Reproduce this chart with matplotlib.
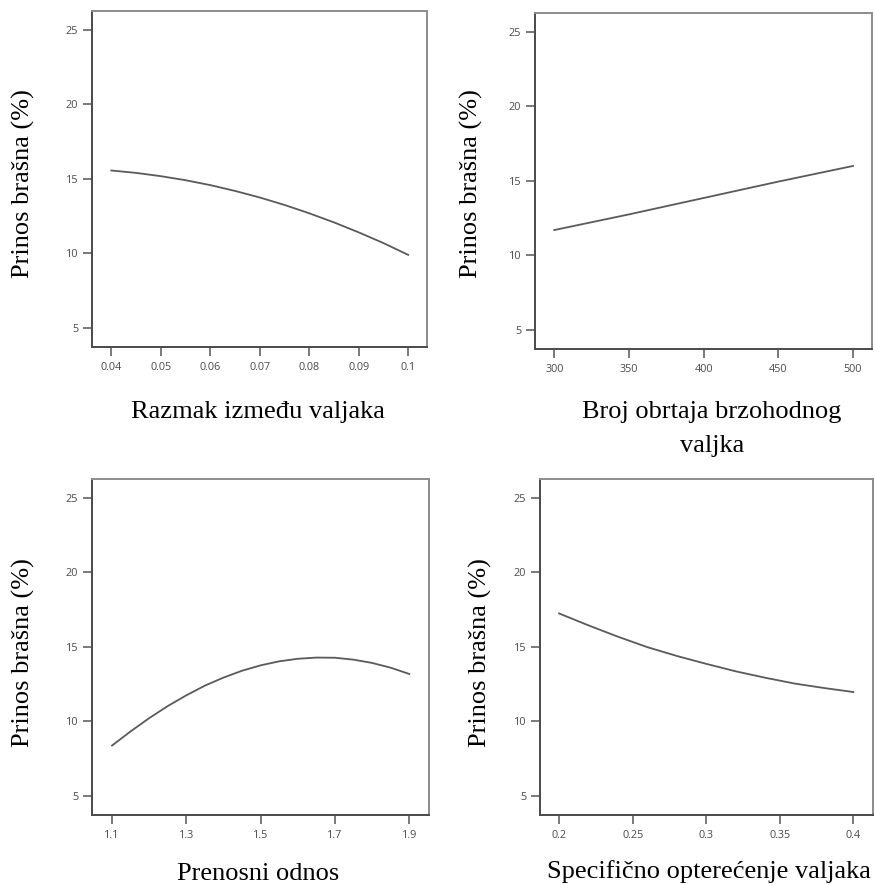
import matplotlib
matplotlib.use("Agg")
import matplotlib.pyplot as plt

# Prinos brašna (%) u zavisnosti od pojedinih parametara mlevenja
razmak_x = [0.04, 0.045, 0.05, 0.055, 0.06, 0.065, 0.07, 0.075, 0.08, 0.085, 0.09, 0.095, 0.1]
razmak_y = [15.56, 15.40, 15.18, 14.91, 14.58, 14.19, 13.75, 13.25, 12.69, 12.08, 11.41, 10.69, 9.9]

obrtaji_x = [300, 350, 400, 450, 500]
obrtaji_y = [11.7, 12.75, 13.85, 14.95, 16.0]

prenosni_x = [1.1, 1.15, 1.2, 1.25, 1.3, 1.35, 1.4, 1.45, 1.5,
              1.55, 1.6, 1.65, 1.7, 1.75, 1.8, 1.85, 1.9]
prenosni_y = [8.38, 9.33, 10.22, 11.03, 11.75, 12.40, 12.94, 13.40, 13.76,
              14.03, 14.20, 14.28, 14.27, 14.14, 13.92, 13.60, 13.18]

opterecenje_x = [0.2, 0.22, 0.24, 0.26, 0.28, 0.3, 0.32, 0.34, 0.36, 0.38, 0.4]
opterecenje_y = [17.24, 16.44, 15.68, 14.98, 14.39, 13.86, 13.36, 12.93, 12.54, 12.24, 11.97]

y_ticks = [5, 10, 15, 20, 25]
razmak_ticks = [0.04, 0.05, 0.06, 0.07, 0.08, 0.09, 0.1]
razmak_labels = ["0.04", "0.05", "0.06", "0.07", "0.08", "0.09", "0.1"]
obrtaji_ticks = [300, 350, 400, 450, 500]
prenosni_ticks = [1.1, 1.3, 1.5, 1.7, 1.9]
opterecenje_ticks = [0.2, 0.25, 0.3, 0.35, 0.4]
opterecenje_labels = ["0.2", "0.25", "0.3", "0.35", "0.4"]

W, H = 875, 885
fig = plt.figure(figsize=(W / 100, H / 100), dpi=100)


def px_axes(left, top, right, bottom):
    return fig.add_axes([left / W, 1 - bottom / H, (right - left) / W, (bottom - top) / H])


def style(ax, xlim, xticks, xlabels=None):
    ax.set_ylim(3.72, 26.26)
    ax.set_xlim(*xlim)
    ax.set_yticks(y_ticks)
    ax.set_xticks(xticks)
    if xlabels is not None:
        ax.set_xticklabels(xlabels)
    for side in ("left", "bottom"):
        ax.spines[side].set_color("#4a4a4a")
        ax.spines[side].set_linewidth(1.4)
    for side in ("top", "right"):
        ax.spines[side].set_color("#8c8c8c")
        ax.spines[side].set_linewidth(1.4)
    ax.tick_params(axis="x", direction="out", length=6.5, width=1.1, color="#555555",
                   pad=4.0, labelsize=7.8, labelcolor="#4a4a4a")
    ax.tick_params(axis="y", direction="out", length=6.5, width=1.1, color="#555555",
                   pad=3.5, labelsize=7.8, labelcolor="#4a4a4a")
    for lab in ax.get_xticklabels() + ax.get_yticklabels():
        lab.set_family("Open Sans")


line_kw = dict(color="#5a5a5a", linewidth=1.3)
serif = dict(family="Liberation Serif", fontsize=19, color="black")

ax1 = px_axes(92, 11, 427, 347)
ax1.plot(razmak_x, razmak_y, **line_kw)
style(ax1, (0.0361, 0.1038), razmak_ticks, razmak_labels)

ax2 = px_axes(535, 13, 872, 349)
ax2.plot(obrtaji_x, obrtaji_y, **line_kw)
style(ax2, (287.1, 512.7), obrtaji_ticks)

ax3 = px_axes(92, 479, 429, 815)
ax3.plot(prenosni_x, prenosni_y, **line_kw)
style(ax3, (1.046, 1.953), prenosni_ticks)

ax4 = px_axes(540, 479, 873, 815)
ax4.plot(opterecenje_x, opterecenje_y, **line_kw)
style(ax4, (0.187, 0.4134), opterecenje_ticks, opterecenje_labels)

# y labels
for cx, cy in [(23, 183.5), (471, 184), (23, 652.5), (480, 652.5)]:
    fig.text(cx / W, 1 - cy / H, "Prinos brašna (%)", rotation=90,
             ha="center", va="center", **serif)

# x labels
fig.text(257.5 / W, 1 - 418 / H, "Razmak između valjaka", ha="center", va="baseline", **serif)
fig.text(712 / W, 1 - 418 / H, "Broj obrtaja brzohodnog", ha="center", va="baseline", **serif)
fig.text(712 / W, 1 - 452 / H, "valjka", ha="center", va="baseline", **serif)
fig.text(258 / W, 1 - 880 / H, "Prenosni odnos", ha="center", va="baseline", **serif)
fig.text(709 / W, 1 - 878 / H, "Specifično opterećenje valjaka", ha="center", va="baseline", **serif)

fig.savefig("out.png", dpi=100)
